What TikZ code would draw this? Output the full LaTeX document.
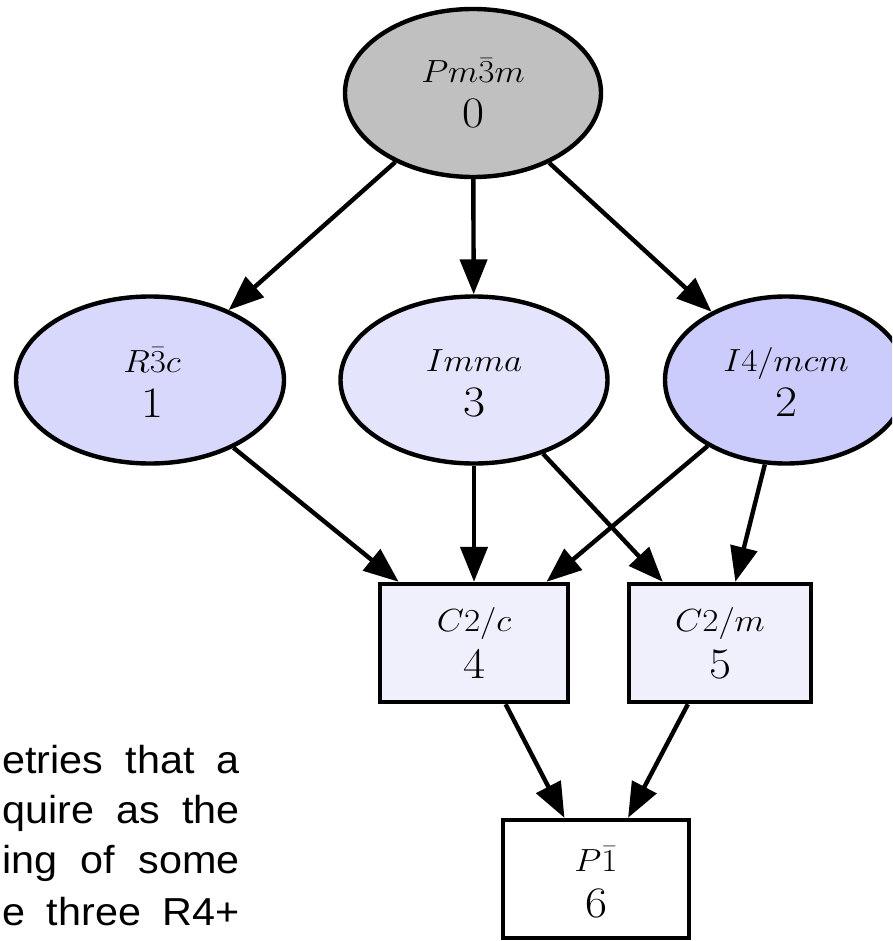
\RequirePackage{fix-cm}
\documentclass[tikz,border=0pt]{standalone}
\usepackage{fontspec}
\usepackage{graphicx}
\newfontfamily\parafont{Liberation Sans}
\usetikzlibrary{arrows.meta,shapes.geometric}

% fills of the subgroup nodes
\definecolor{rootfill}{RGB}{192,192,192}
\definecolor{fillrthree}{RGB}{216,216,252}
\definecolor{fillimma}{RGB}{228,228,252}
\definecolor{fillifour}{RGB}{204,204,252}
\definecolor{fillmono}{RGB}{240,240,252}

% lettering is set slightly wide
\newcommand\widetext[1]{\scalebox{1.1}[1]{#1}}
\newcommand\widepara[1]{\scalebox{1.06}[1]{#1}}

\tikzset{
  groupell/.style={ellipse, draw=black, line width=4.4pt, inner sep=0pt},
  groupbox/.style={rectangle, draw=black, line width=4.4pt, inner sep=0pt,
                   minimum height=118pt},
  subedge/.style={line width=4.4pt, -{Triangle[length=35pt,width=27pt]}},
  symlabel/.style={anchor=base, inner sep=0pt, font=\fontsize{32}{38}\selectfont},
  numlabel/.style={anchor=base, inner sep=0pt, font=\fontsize{43.5}{50}\selectfont},
  paraline/.style={anchor=base east, inner sep=0pt,
                   font=\parafont\fontsize{39}{46}\selectfont},
}

\begin{document}
\begin{tikzpicture}[x=1pt,y=-1pt]
  \useasboundingbox (0,0) rectangle (892,941);
  \clip (0,0) rectangle (892,941);
  \fill[white] (0,0) rectangle (892,941);

  % subgroup nodes
  \node[groupell, fill=rootfill,  minimum width=256pt, minimum height=168pt] (n0) at (473,93) {};
  \node[groupell, fill=fillrthree, minimum width=268pt, minimum height=167pt] (n1) at (150,380) {};
  \node[groupell, fill=fillimma,   minimum width=267pt, minimum height=167pt] (n3) at (474,380) {};
  \node[groupell, fill=fillifour,  minimum width=242pt, minimum height=167pt] (n2) at (786,380) {};
  \node[groupbox, fill=fillmono, minimum width=188pt] (n4) at (474,643) {};
  \node[groupbox, fill=fillmono, minimum width=182pt] (n5) at (720,643) {};
  \node[groupbox, fill=white,    minimum width=186pt] (n6) at (596,879) {};

  % group-subgroup relations
  \draw[subedge] (n0) -- (n1);
  \draw[subedge] (n0) -- (n3);
  \draw[subedge] (n0) -- (n2);
  \draw[subedge] (n1) -- (n4);
  \draw[subedge] (n3) -- (n4);
  \draw[subedge] (n2) -- (n4);
  \draw[subedge] (n3) -- (n5);
  \draw[subedge] (n2) -- (n5);
  \draw[subedge] (n4) -- (n6);
  \draw[subedge] (n5) -- (n6);

  % space group symbols and indices
  \node[symlabel] (s0) at (473,83)  {\widetext{$Pm\bar{3}m$}};
  \node[numlabel] (d0) at (473,128) {\widetext{0}};
  \node[symlabel] (s1) at (152,372) {\widetext{$R\bar{3}c$}};
  \node[numlabel] (d1) at (152,417) {\widetext{1}};
  \node[symlabel] (s3) at (474,371) {\widetext{$Imma$}};
  \node[numlabel] (d3) at (474,416) {\widetext{3}};
  \node[symlabel] (s2) at (786,371) {\widetext{$I4/mcm$}};
  \node[numlabel] (d2) at (786,416) {\widetext{2}};
  \node[symlabel] (s4) at (474,631) {\widetext{$C2/c$}};
  \node[numlabel] (d4) at (474,678) {\widetext{4}};
  \node[symlabel] (s5) at (720,631) {\widetext{$C2/m$}};
  \node[numlabel] (d5) at (720,678) {\widetext{5}};
  \node[symlabel] (s6) at (596,871) {\widetext{$P\bar{1}$}};
  \node[numlabel] (d6) at (596,917) {\widetext{6}};

  % paragraph fragment on the left
  \node[paraline] (p1) at (240,773) {\widepara{\makebox[224pt][s]{etries that a}}};
  \node[paraline] (p2) at (240,823) {\widepara{\makebox[224pt][s]{quire as the}}};
  \node[paraline] (p3) at (240,873) {\widepara{\makebox[224pt][s]{ing of some}}};
  \node[paraline] (p4) at (240,925) {\widepara{\makebox[224pt][s]{e three R4+}}};
\end{tikzpicture}
\end{document}
